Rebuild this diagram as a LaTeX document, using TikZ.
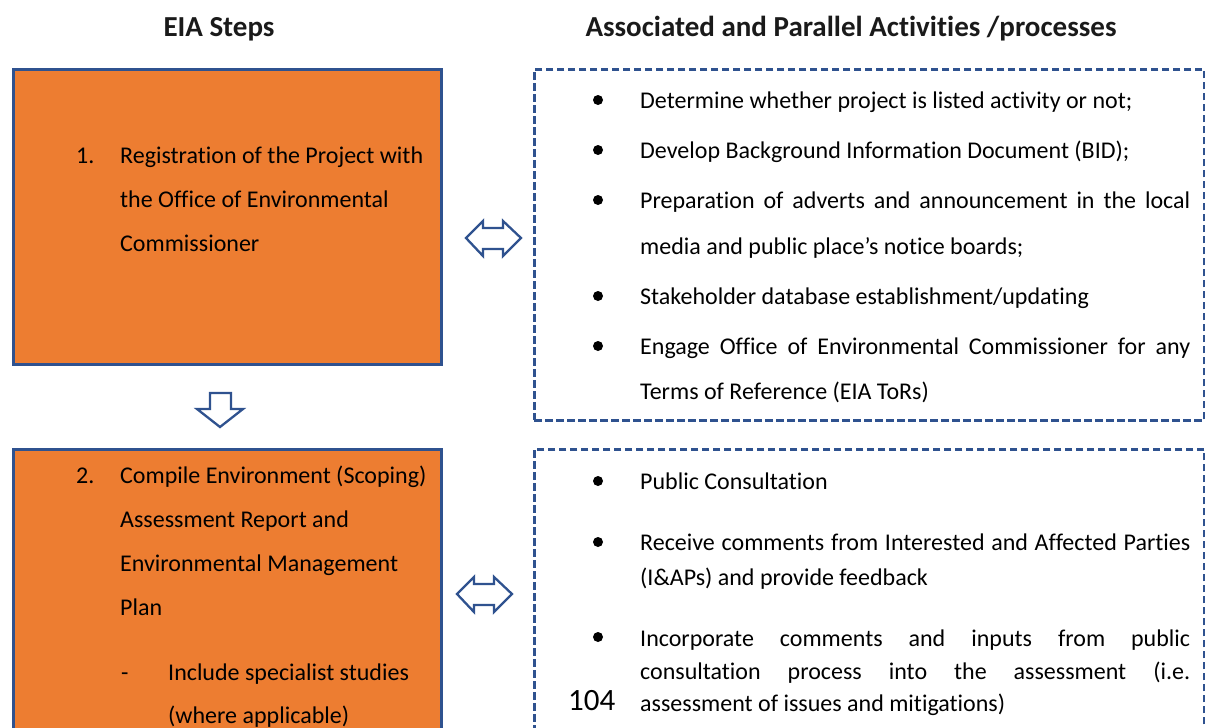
\documentclass[tikz,border=0pt]{standalone}
\usepackage{fontspec}
\setmainfont{Carlito}[Ligatures={NoCommon}]
\definecolor{eiaorange}{HTML}{ED7D31}
\definecolor{eiablue}{HTML}{2F528F}
\definecolor{titlegray}{HTML}{1A1A1A}
\newcommand\bodyfont{\fontsize{24}{28}\selectfont}
\newcommand\titlefont{\fontsize{29}{34}\selectfont\bfseries}
\tikzset{
  stepbox/.style={draw=eiablue, line width=2.5, fill=eiaorange, inner sep=0, anchor=north west},
  actbox/.style={draw=eiablue, line width=2.5, dash pattern=on 7.5pt off 3.5pt, inner sep=0, anchor=north west},
  txt/.style={anchor=base west, inner sep=0, font=\bodyfont, text=black},
  ttl/.style={anchor=base, inner sep=0, font=\titlefont, text=titlegray},
  bul/.style={circle, fill=black, inner sep=0, minimum size=10},
  blockarrow/.style={draw=eiablue, line width=2.3, fill=white, line join=miter},
}
\begin{document}
\begin{tikzpicture}[x=1pt,y=-1pt]
\useasboundingbox (0,0) rectangle (1205,728);
\clip (0,0) rectangle (1205,728);

% titles
\node[ttl] (t1) at (219,36) {EIA Steps};
\node[ttl] (t2) at (851,36) {Associated and Parallel Activities /processes};

% left step boxes
\node[stepbox, minimum width=428, minimum height=295] (s1) at (12,68) {};
\node[stepbox, minimum width=428, minimum height=320] (s2) at (12,448) {};

% right activity boxes
\node[actbox, minimum width=670, minimum height=351] (a1) at (533,68) {};
\node[actbox, minimum width=670, minimum height=320] (a2) at (533,448) {};

% step 1 text
\node[txt] (n1) at (76,163) {1.};
\node[txt] (s1l1) at (120,163) {Registration of the Project with};
\node[txt] (s1l2) at (120,207) {the Office of Environmental};
\node[txt] (s1l3) at (120,251) {Commissioner};

% step 2 text
\node[txt] (n2) at (76,483) {2.};
\node[txt] (s2l1) at (120,483) {Compile Environment (Scoping)};
\node[txt] (s2l2) at (120,527) {Assessment Report and};
\node[txt] (s2l3) at (120,571) {Environmental Management};
\node[txt] (s2l4) at (120,615) {Plan};
\node[txt] (dash1) at (121,680) {-};
\node[txt] (s2l5) at (168,680) {Include specialist studies};
\node[txt] (s2l6) at (168,723) {(where applicable)};

% activity box 1
\node[bul] (b1) at (598,100) {};
\node[bul] (b2) at (598,150) {};
\node[bul] (b3) at (598,200) {};
\node[bul] (b4) at (598,296) {};
\node[bul] (b5) at (598,346) {};
\node[txt] (a1l1) at (640,108) {Determine whether project is listed activity or not;};
\node[txt] (a1l2) at (640,158) {Develop Background Information Document (BID);};
\node[txt] (a1l3) at (640,208) {\makebox[550pt][s]{Preparation of adverts and announcement in the local}};
\node[txt] (a1l4) at (640,254) {media and public place’s notice boards;};
\node[txt] (a1l5) at (640,304) {Stakeholder database establishment/updating};
\node[txt] (a1l6) at (640,354) {\makebox[550pt][s]{Engage Office of Environmental Commissioner for any}};
\node[txt] (a1l7) at (640,399) {Terms of Reference (EIA ToRs)};

% activity box 2
\node[bul] (c1) at (598,481) {};
\node[bul] (c2) at (598,542) {};
\node[bul] (c3) at (598,637) {};
\node[txt] (a2l1) at (640,489) {Public Consultation};
\node[txt] (a2l2) at (640,550) {\makebox[550pt][s]{Receive comments from Interested and Affected Parties}};
\node[txt] (a2l3) at (640,585) {(I\&APs) and provide feedback};
\node[txt] (a2l4) at (640,646) {\makebox[550pt][s]{Incorporate comments and inputs from public}};
\node[txt] (a2l5) at (640,679) {\makebox[550pt][s]{consultation process into the assessment (i.e.}};
\node[txt] (a2l6) at (640,711) {assessment of issues and mitigations)};

% page number
\node[txt, font=\fontsize{31}{36}\selectfont] (pg) at (568,710) {104};

% block arrows
\coordinate (da1) at (493.5,238);
\coordinate (da2) at (484.5,594);
\coordinate (down) at (220,393);
\foreach \c in {da1,da2}{
  \draw[blockarrow, shift={(\c)}] (-27.5,0) -- (-10.5,-17) -- (-10.5,-10) -- (9.5,-10) -- (9.5,-17)
    -- (27.5,0) -- (9.5,18) -- (9.5,11) -- (-10.5,11) -- (-10.5,18) -- cycle;
}
\draw[blockarrow, shift={(down)}] (-10,0) -- (11,0) -- (11,16) -- (23,16) -- (0,34) -- (-23,16) -- (-10,16) -- cycle;
\end{tikzpicture}
\end{document}
